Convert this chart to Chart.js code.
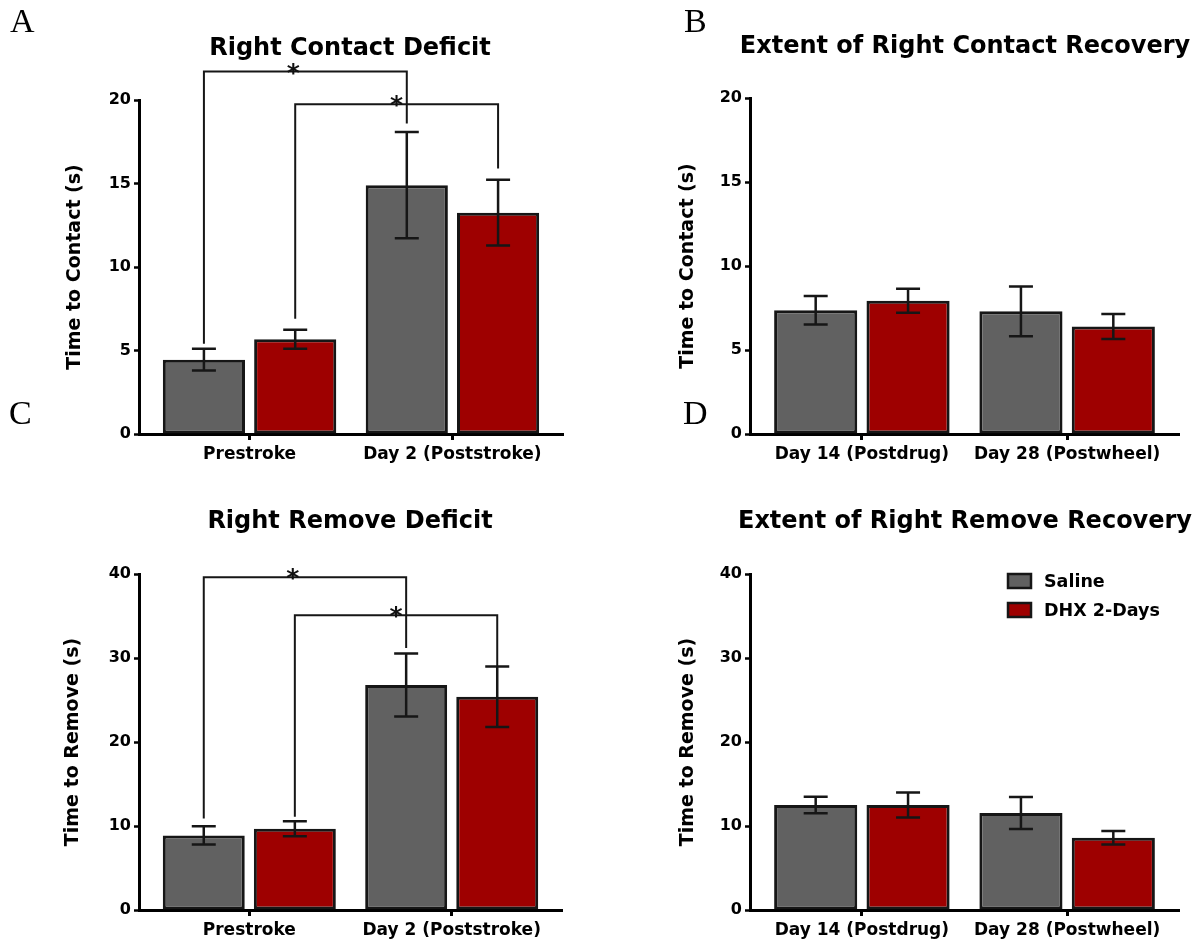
<!DOCTYPE html>
<html>
<head>
<meta charset="utf-8">
<script src="https://cdn.jsdelivr.net/npm/chart.js@4.4.0/dist/chart.umd.min.js"></script>
<style>
  html, body { margin: 0; padding: 0; background: #fff; overflow: hidden; }
  #wrap { position: relative; width: 1197px; height: 945px; overflow: hidden; }
  canvas { position: absolute; }
  .tag { position: absolute; font-family: "Liberation Serif", "Times New Roman", serif; font-size: 34px; line-height: 34px; color: #000; }
</style>
</head>
<body>
<div id="wrap">
  <canvas id="cA" width="700" height="472" style="left:0;top:0"></canvas>
  <canvas id="cB" width="610" height="472" style="left:660px;top:0"></canvas>
  <canvas id="cC" width="700" height="473" style="left:0;top:472px"></canvas>
  <canvas id="cD" width="610" height="473" style="left:660px;top:472px"></canvas>
  <div class="tag" style="left:10px;top:4px">A</div>
  <div class="tag" style="left:684px;top:4px">B</div>
  <div class="tag" style="left:9px;top:396px">C</div>
  <div class="tag" style="left:683px;top:396px">D</div>
</div>
<script>
// categories and series
const deficitDays = ['Prestroke', 'Day 2 (Poststroke)'];
const recoveryDays = ['Day 14 (Postdrug)', 'Day 28 (Postwheel)'];
const groups = ['Saline', 'DHX 2-Days'];

// y ticks
const contactTicks = [0, 5, 10, 15, 20];
const removeTicks = [0, 10, 20, 30, 40];

// A - right contact deficit (means, SEM)
const contactDeficitSaline = [4.45, 14.9];
const contactDeficitDhx = [5.67, 13.25];
const contactDeficitSalineErr = [0.65, 3.18];
const contactDeficitDhxErr = [0.57, 1.97];

// B - extent of right contact recovery
const contactRecoverySaline = [7.37, 7.3];
const contactRecoveryDhx = [7.93, 6.4];
const contactRecoverySalineErr = [0.85, 1.48];
const contactRecoveryDhxErr = [0.72, 0.75];

// C - right remove deficit
const removeDeficitSaline = [8.88, 26.8];
const removeDeficitDhx = [9.68, 25.4];
const removeDeficitSalineErr = [1.08, 3.75];
const removeDeficitDhxErr = [0.89, 3.6];

// D - extent of right remove recovery
const removeRecoverySaline = [12.5, 11.55];
const removeRecoveryDhx = [12.5, 8.6];
const removeRecoverySalineErr = [0.98, 1.9];
const removeRecoveryDhxErr = [1.5, 0.81];

// significance brackets: group index, bracket height, leg ends (first day, second day)
const contactDeficitBrackets = [
  { group: 0, top: 21.7, ends: [5.4, 18.6] },
  { group: 1, top: 19.75, ends: [6.9, 15.9] }
];
const removeDeficitBrackets = [
  { group: 0, top: 39.6, ends: [10.9, 31.2] },
  { group: 1, top: 35.1, ends: [11.1, 29.0] }
];

const FONT = 'DejaVu Sans';
const colors = ['#616161', '#9e0000'];
const edge = '#161616';

const errorBars = {
  id: 'errorBars',
  afterDatasetsDraw(chart) {
    const ctx = chart.ctx, ys = chart.scales.y;
    ctx.save();
    ctx.strokeStyle = edge;
    ctx.lineWidth = 2.5;
    chart.data.datasets.forEach((ds, d) => {
      chart.getDatasetMeta(d).data.forEach((bar, i) => {
        const m = ds.data[i].y, e = ds.err[i];
        const hi = ys.getPixelForValue(m + e), lo = ys.getPixelForValue(m - e);
        ctx.beginPath();
        ctx.moveTo(bar.x, lo); ctx.lineTo(bar.x, hi);
        ctx.moveTo(bar.x - 12, hi); ctx.lineTo(bar.x + 12, hi);
        ctx.moveTo(bar.x - 12, lo); ctx.lineTo(bar.x + 12, lo);
        ctx.stroke();
      });
    });
    ctx.restore();
  }
};

const brackets = {
  id: 'brackets',
  afterDatasetsDraw(chart, args, opts) {
    if (!opts.list) return;
    const ctx = chart.ctx, ys = chart.scales.y;
    ctx.save();
    ctx.strokeStyle = edge;
    ctx.lineWidth = 2;
    ctx.fillStyle = '#111';
    ctx.font = 'bold 25px ' + FONT;
    ctx.textAlign = 'center';
    ctx.textBaseline = 'alphabetic';
    opts.list.forEach((b, k) => {
      const bars = chart.getDatasetMeta(b.group).data;
      const x1 = bars[0].x, x2 = bars[1].x, yt = ys.getPixelForValue(b.top);
      ctx.beginPath();
      ctx.moveTo(x1, ys.getPixelForValue(b.ends[0]));
      ctx.lineTo(x1, yt);
      ctx.lineTo(x2, yt);
      ctx.lineTo(x2, ys.getPixelForValue(b.ends[1]));
      ctx.stroke();
      const f = opts.starAt[k];
      ctx.fillText('*', x1 + (x2 - x1) * f, yt + 9);
    });
    ctx.restore();
  }
};

const boxLegend = {
  id: 'boxLegend',
  afterDraw(chart, args, opts) {
    if (!opts.show) return;
    const ctx = chart.ctx, area = chart.chartArea;
    const x = area.right - 171;
    let y = area.top;
    ctx.save();
    ctx.font = 'bold 17.5px ' + FONT;
    ctx.textBaseline = 'middle';
    chart.data.datasets.forEach(ds => {
      ctx.fillStyle = ds.backgroundColor;
      ctx.fillRect(x, y, 23, 14);
      ctx.strokeStyle = edge;
      ctx.lineWidth = 2.5;
      ctx.strokeRect(x, y, 23, 14);
      ctx.fillStyle = '#000';
      ctx.fillText(ds.label, x + 36, y + 8);
      y += 29;
    });
    ctx.restore();
  }
};

function panel(id, spec) {
  const g = spec.geom;
  const ticks = spec.yTicks;
  const datasets = groups.map((name, d) => ({
    label: name,
    data: spec.days.map((day, i) => ({ x: i, y: spec.values[d][i] })),
    err: spec.errs[d],
    backgroundColor: colors[d],
    borderColor: edge,
    borderWidth: 3,
    borderSkipped: false,
    categoryPercentage: 0.9,
    barPercentage: 0.9
  }));
  return new Chart(document.getElementById(id), {
    type: 'bar',
    data: { datasets },
    options: {
      responsive: false,
      animation: false,
      layout: { padding: 0 },
      scales: {
        x: {
          type: 'linear',
          offset: false,
          min: -0.545,
          max: 1.545,
          afterBuildTicks: a => { a.ticks = spec.days.map((d, i) => ({ value: i })); },
          afterFit: s => { s.height = g.xH; },
          ticks: {
            callback: v => spec.days[v],
            autoSkip: false,
            maxRotation: 0,
            padding: 4,
            color: '#000',
            font: { family: FONT, weight: 'bold', size: 17 }
          },
          grid: { offset: false, drawOnChartArea: false, drawTicks: true, tickLength: 6, tickWidth: 3, tickColor: '#000' },
          border: { color: '#000', width: 3 }
        },
        y: {
          min: ticks[0],
          max: ticks[ticks.length - 1],
          afterFit: s => { s.width = g.yW; },
          ticks: {
            stepSize: ticks[1] - ticks[0],
            padding: 3,
            color: '#000',
            font: { family: FONT, weight: 'bold', size: 16 }
          },
          grid: { drawOnChartArea: false, drawTicks: true, tickLength: 5, tickWidth: 2.5, tickColor: '#000' },
          border: { color: '#000', width: 3 },
          title: {
            display: true,
            text: spec.yTitle,
            color: '#000',
            font: { family: FONT, weight: 'bold', size: 19 },
            padding: { top: g.yTitlePad, bottom: 0 }
          }
        },
        pad: {
          type: 'linear',
          position: 'right',
          display: true,
          grid: { display: false },
          ticks: { display: false },
          border: { display: false },
          afterFit: s => { s.width = g.padR; }
        }
      },
      plugins: {
        legend: { display: false },
        tooltip: { enabled: false },
        title: {
          display: true,
          text: spec.title,
          color: '#000',
          font: { family: FONT, weight: 'bold', size: 24 },
          padding: { top: g.tTop, bottom: g.tBot }
        },
        brackets: { list: spec.brackets, starAt: [0.44, 0.5] },
        boxLegend: { show: !!spec.legend }
      }
    },
    plugins: [errorBars, brackets, boxLegend]
  });
}

panel('cA', {
  title: 'Right Contact Deficit',
  yTitle: 'Time to Contact (s)',
  days: deficitDays,
  yTicks: contactTicks,
  values: [contactDeficitSaline, contactDeficitDhx],
  errs: [contactDeficitSalineErr, contactDeficitDhxErr],
  brackets: contactDeficitBrackets,
  geom: { yW: 139, padR: 137, xH: 38, tTop: 34.6, tBot: 36.6, yTitlePad: 63.6 }
});

panel('cB', {
  title: 'Extent of Right Contact Recovery',
  yTitle: 'Time to Contact (s)',
  days: recoveryDays,
  yTicks: contactTicks,
  values: [contactRecoverySaline, contactRecoveryDhx],
  errs: [contactRecoverySalineErr, contactRecoveryDhxErr],
  geom: { yW: 90, padR: 91, xH: 38, tTop: 32.6, tBot: 36.6, yTitlePad: 16.6 }
});

panel('cC', {
  title: 'Right Remove Deficit',
  yTitle: 'Time to Remove (s)',
  days: deficitDays,
  yTicks: removeTicks,
  values: [removeDeficitSaline, removeDeficitDhx],
  errs: [removeDeficitSalineErr, removeDeficitDhxErr],
  brackets: removeDeficitBrackets,
  geom: { yW: 139, padR: 138, xH: 35, tTop: 35.6, tBot: 37.6, yTitlePad: 61.6 }
});

panel('cD', {
  title: 'Extent of Right Remove Recovery',
  yTitle: 'Time to Remove (s)',
  days: recoveryDays,
  yTicks: removeTicks,
  values: [removeRecoverySaline, removeRecoveryDhx],
  errs: [removeRecoverySalineErr, removeRecoveryDhxErr],
  legend: true,
  geom: { yW: 90, padR: 91, xH: 35, tTop: 35.6, tBot: 37.6, yTitlePad: 16.6 }
});
</script>
</body>
</html>
